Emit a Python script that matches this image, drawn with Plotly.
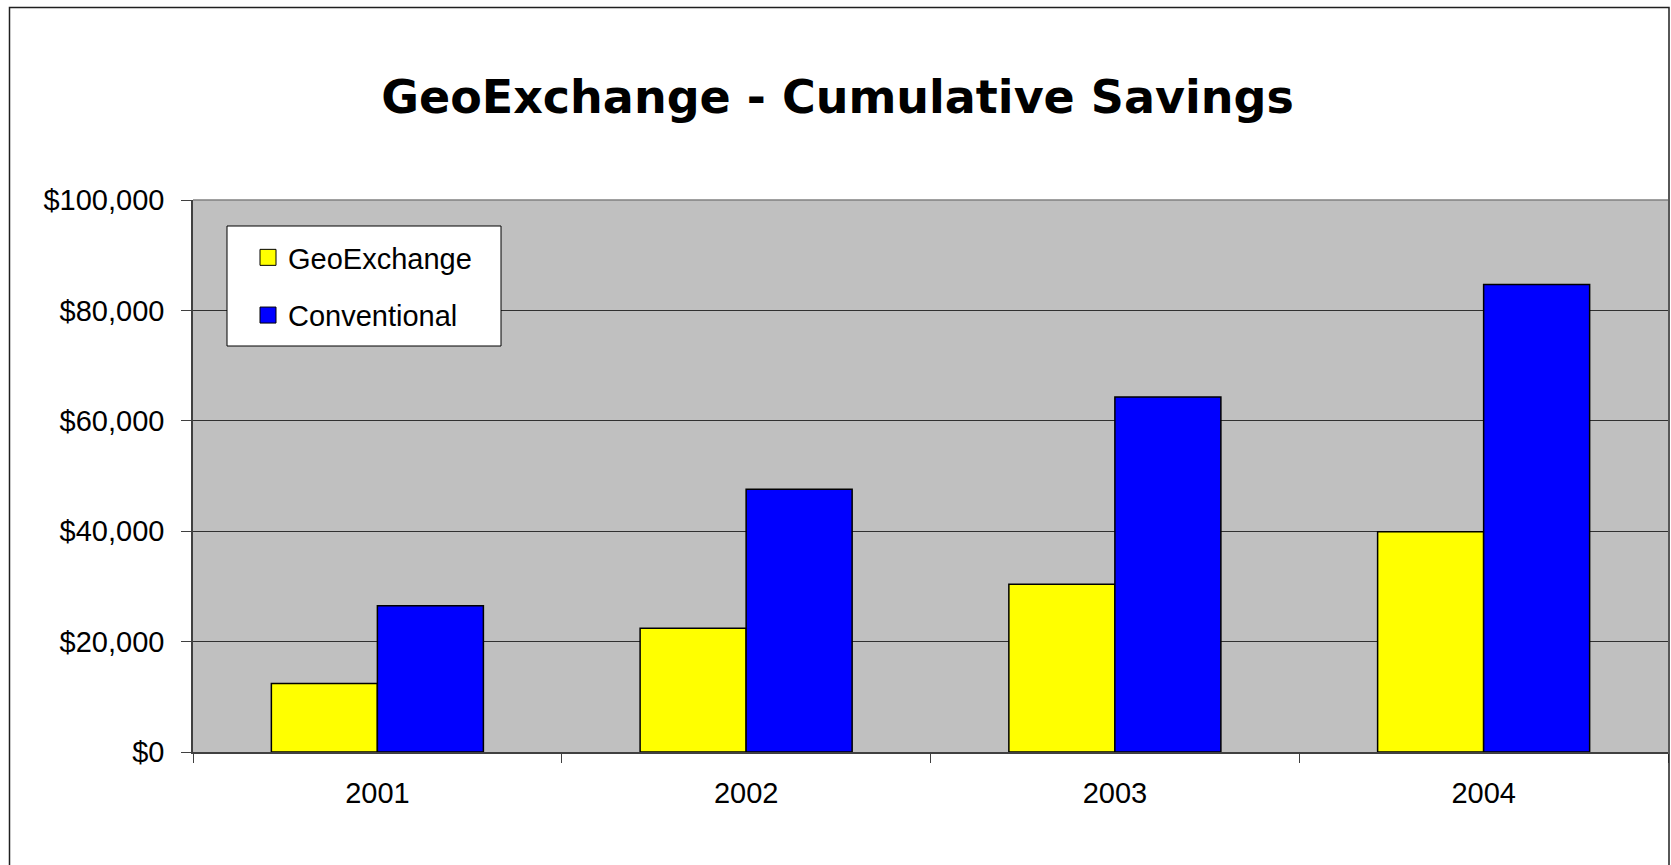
import plotly.graph_objects as go

# Cumulative savings by year (USD)
years = ["2001", "2002", "2003", "2004"]
geoexchange = [12400, 22400, 30400, 39900]
conventional = [26500, 47600, 64300, 84700]

y_ticks = [0, 20000, 40000, 60000, 80000, 100000]
y_tick_labels = ["$0", "$20,000", "$40,000", "$60,000", "$80,000", "$100,000"]

series_names = ["GeoExchange", "Conventional"]
series_colors = ["#FFFF00", "#0000FF"]

W, H = 1671, 865
L, R, T, B = 193, 3, 200, 113
plot_w = W - L - R
plot_h = H - T - B

def px_x(p):
    return (p - L) / plot_w

def px_y(p):
    return (H - B - p) / plot_h

text_font = dict(family="Liberation Sans, Arial, sans-serif", size=29, color="#000000")

fig = go.Figure()
for name, vals, col in zip(series_names, [geoexchange, conventional], series_colors):
    fig.add_trace(go.Bar(
        x=years, y=vals, name=name, showlegend=False,
        marker=dict(color=col, line=dict(color="#000000", width=1.5)),
    ))
    # legend key swatch
    fig.add_trace(go.Scatter(
        x=[None], y=[None], mode="markers", name=name, legendgroup=name,
        marker=dict(symbol="square", size=16, color=col,
                    line=dict(color="#000000", width=1)),
    ))

fig.update_layout(
    width=W, height=H,
    margin=dict(l=L, r=R, t=T, b=B, pad=0),
    paper_bgcolor="#FFFFFF",
    plot_bgcolor="#C0C0C0",
    barmode="group",
    bargap=0.425,
    bargroupgap=0,
    font=text_font,
    title=dict(
        text="<b>GeoExchange - Cumulative Savings</b>",
        font=dict(family="DejaVu Sans, sans-serif", size=46, color="#000000"),
        x=837.5 / W, xanchor="center", xref="container",
        y=1 - 97 / H, yanchor="middle", yref="container",
    ),
    legend=dict(
        x=px_x(248), y=px_y(232), xanchor="left", yanchor="top",
        bgcolor="rgba(0,0,0,0)", borderwidth=0,
        font=text_font, traceorder="grouped", tracegroupgap=17,
    ),
    xaxis=dict(
        type="category",
        showline=True, linecolor="#404040", linewidth=1.5,
        ticks="outside", ticklen=9, tickwidth=1, tickcolor="#404040",
        tickson="boundaries",
        ticklabelstandoff=14,
        showgrid=False, zeroline=False,
        tickfont=text_font,
    ),
    yaxis=dict(
        range=[0, 100000],
        tickvals=y_ticks, ticktext=y_tick_labels,
        showline=True, linecolor="#404040", linewidth=1.5,
        ticks="outside", ticklen=10, tickwidth=1, tickcolor="#404040",
        ticklabelstandoff=11,
        showgrid=True, gridcolor="#303030", gridwidth=1,
        zeroline=False,
        tickfont=text_font,
    ),
    shapes=[
        # plot area top edge
        dict(type="line", xref="paper", yref="paper", x0=0, x1=1, y0=1, y1=1,
             line=dict(color="#808080", width=1.5), layer="above"),
        # legend box
        dict(type="rect", xref="paper", yref="paper",
             x0=px_x(227), x1=px_x(501), y0=px_y(346), y1=px_y(226),
             fillcolor="#FFFFFF", line=dict(color="#000000", width=1), layer="above"),
        # chart frame
        dict(type="rect", xref="paper", yref="paper",
             x0=px_x(9.5), x1=px_x(1669), y0=px_y(890), y1=px_y(7.5),
             line=dict(color="#202020", width=1.5), layer="above"),
    ],
)

fig.write_html("out.html")
